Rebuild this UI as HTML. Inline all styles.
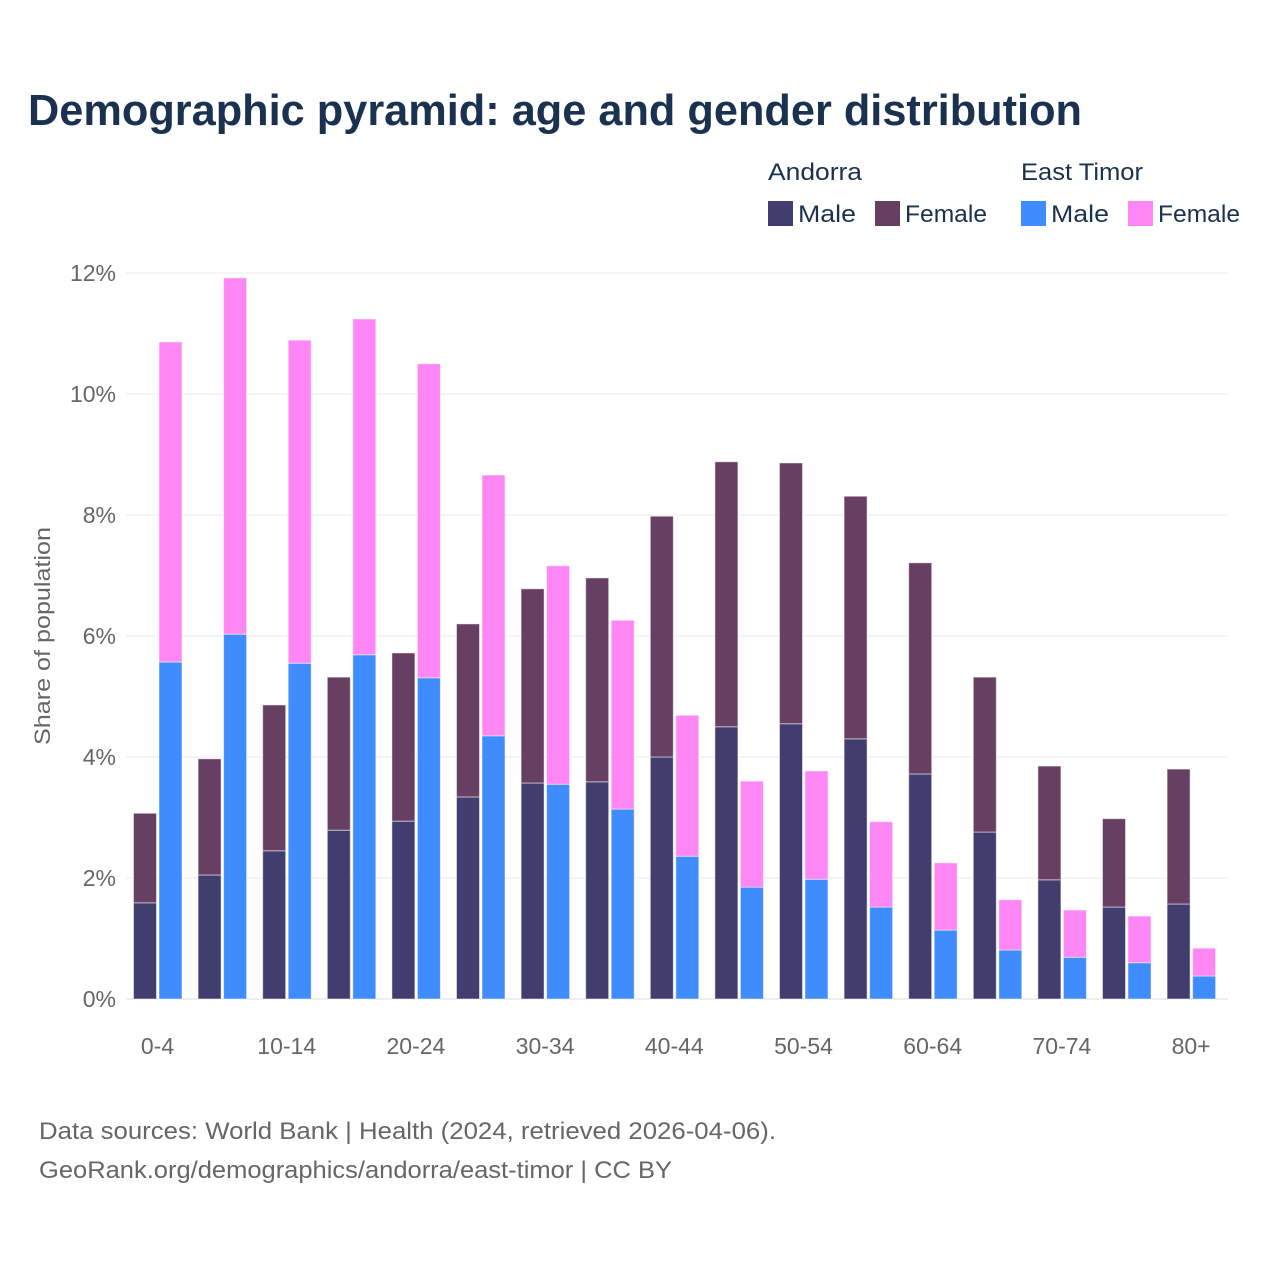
<!DOCTYPE html>
<html><head><meta charset="utf-8"><style>
html,body{margin:0;padding:0;background:#fff;}
svg{display:block;font-family:"Liberation Sans",sans-serif;}
</style></head><body>
<svg id="chart" width="1280" height="1280" viewBox="0 0 1280 1280">
<rect width="1280" height="1280" fill="#fff"/>
<text x="28" y="125" font-size="44" font-weight="bold" fill="#1b3150" textLength="1054" lengthAdjust="spacingAndGlyphs">Demographic pyramid: age and gender distribution</text>
<g font-size="24" fill="#1b3150">
<text x="768" y="180" textLength="94" lengthAdjust="spacingAndGlyphs">Andorra</text>
<text x="1021" y="180" textLength="122" lengthAdjust="spacingAndGlyphs">East Timor</text>
<g><rect x="768" y="201" width="25" height="25" fill="#413d6e"/><text x="798" y="222" textLength="58" lengthAdjust="spacingAndGlyphs">Male</text></g>
<g><rect x="875" y="201" width="25" height="25" fill="#673f63"/><text x="905" y="222" textLength="82" lengthAdjust="spacingAndGlyphs">Female</text></g>
<g><rect x="1021" y="201" width="25" height="25" fill="#3f8cff"/><text x="1051" y="222" textLength="58" lengthAdjust="spacingAndGlyphs">Male</text></g>
<g><rect x="1128" y="201" width="25" height="25" fill="#ff86f5"/><text x="1158" y="222" textLength="82" lengthAdjust="spacingAndGlyphs">Female</text></g>
</g>
<text transform="translate(50,636) rotate(-90)" text-anchor="middle" font-size="22" fill="#666" textLength="218" lengthAdjust="spacingAndGlyphs">Share of population</text>
<g id="grid"></g><g id="bars"></g><g id="xt"></g>
<text x="39" y="1139" font-size="24" fill="#666" textLength="737" lengthAdjust="spacingAndGlyphs">Data sources: World Bank | Health (2024, retrieved 2026-04-06).</text>
<text x="39" y="1178" font-size="24" fill="#666" textLength="633" lengthAdjust="spacingAndGlyphs">GeoRank.org/demographics/andorra/east-timor | CC BY</text>
</svg>
<script>
const categories=["0-4","5-9","10-14","15-19","20-24","25-29","30-34","35-39","40-44","45-49","50-54","55-59","60-64","65-69","70-74","75-79","80+"];
const andorraMale=[1.59,2.05,2.45,2.79,2.94,3.34,3.57,3.59,4.0,4.5,4.55,4.3,3.72,2.76,1.97,1.52,1.57];
const andorraFemale=[1.48,1.92,2.41,2.53,2.78,2.86,3.21,3.37,3.98,4.38,4.31,4.01,3.49,2.56,1.88,1.46,2.23];
const timorMale=[5.57,6.03,5.55,5.69,5.31,4.35,3.55,3.14,2.36,1.85,1.98,1.52,1.14,0.81,0.69,0.6,0.38];
const timorFemale=[5.29,5.89,5.34,5.55,5.19,4.31,3.61,3.12,2.33,1.75,1.79,1.41,1.11,0.83,0.78,0.77,0.46];
const yTicks=[0,2,4,6,8,10,12];
const NS="http://www.w3.org/2000/svg";
const y=v=>999-v*60.5;
const xc=i=>157.5+i*64.6;
function mk(tag,attrs,parent){const e=document.createElementNS(NS,tag);for(const k in attrs)e.setAttribute(k,attrs[k]);parent.appendChild(e);return e;}
const grid=document.getElementById('grid'),bars=document.getElementById('bars'),xt=document.getElementById('xt');
yTicks.forEach(t=>{
 const l=mk('line',{x1:126,x2:1228,y1:y(t),y2:y(t),stroke:t===0?'#ddd':'#ebebeb','stroke-width':1},grid);
 
 
 const tx=mk('text',{x:116,y:y(t)+8,'text-anchor':'end','font-size':23,fill:'#666'},grid);
 
 
 tx.textContent=t+'%';
});
function seg(x,v0,v1,fill,name){
 const r=mk('rect',{x:x,y:y(v1),width:23,height:y(v0)-y(v1),fill:fill,stroke:'#fff','stroke-opacity':0.5,'stroke-width':1},bars);
 
 
}
categories.forEach((c,i)=>{
 const ax=xc(i)-24, tx0=xc(i)+1.5;
 seg(ax,0,andorraMale[i],'#413d6e','bar-andorra-male');
 seg(ax,andorraMale[i],andorraMale[i]+andorraFemale[i],'#673f63','bar-andorra-female');
 seg(tx0,0,timorMale[i],'#3f8cff','bar-east-timor-male');
 seg(tx0,timorMale[i],timorMale[i]+timorFemale[i],'#ff86f5','bar-east-timor-female');
 if(i%2===0){
  const t=mk('text',{x:xc(i),y:1054,'text-anchor':'middle','font-size':23,fill:'#666'},xt);
  
  
  t.textContent=c;
 }
});
</script>
</body></html>
